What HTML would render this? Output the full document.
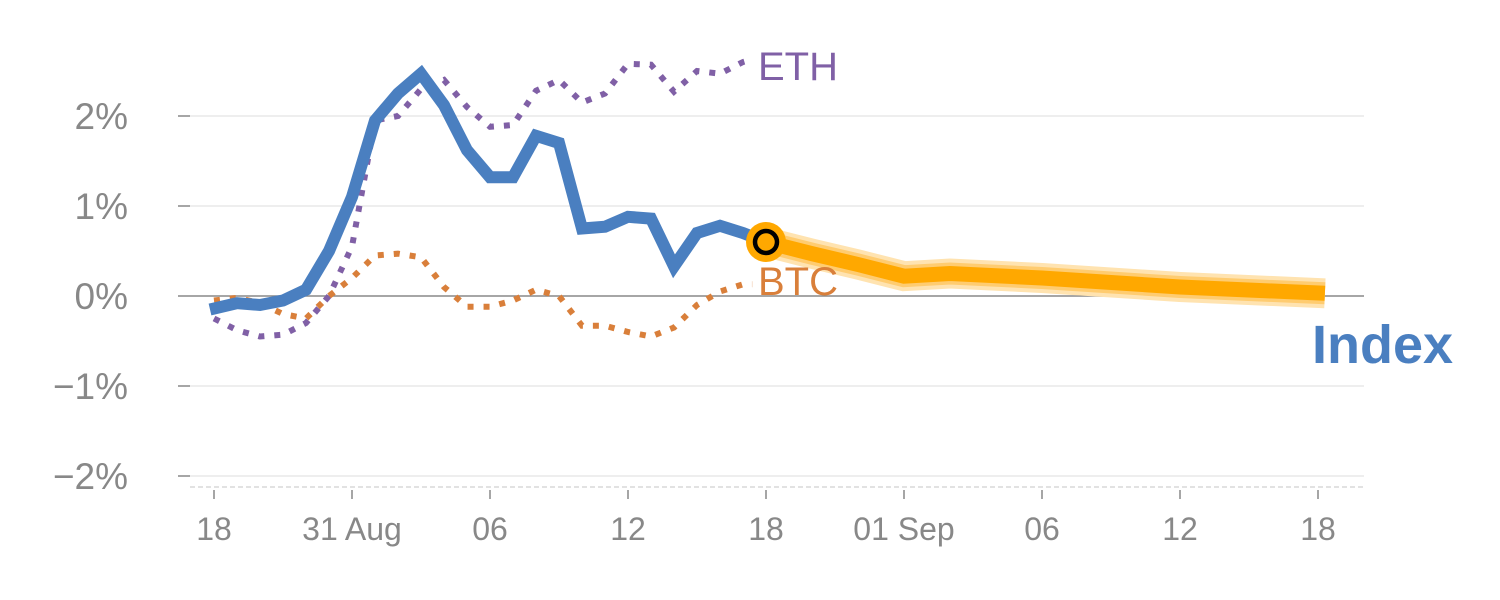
<!DOCTYPE html>
<html><head><meta charset="utf-8"><style>
html,body{margin:0;padding:0;background:#fff;}
svg{display:block;font-family:"Liberation Sans",sans-serif;}
</style></head><body>
<svg id="chart" width="1500" height="600" viewBox="0 0 1500 600" xmlns="http://www.w3.org/2000/svg">
<g id="grid"></g>
<g id="axes"></g>
<g id="series"></g>
<text x="758" y="80" font-size="40" fill="#8060a6">ETH</text>
<text x="758" y="295" font-size="40" fill="#d97f3a">BTC</text>
<text x="1312" y="363" font-size="54" font-weight="bold" fill="#4a7fc0">Index</text>
</svg>
<script>
const yTicks = [2, 1, 0, -1, -2];
const yTickLabels = ["2%", "1%", "0%", "\u22121%", "\u22122%"];
const xTickLabels = ["18", "31 Aug", "06", "12", "18", "01 Sep", "06", "12", "18"];
const indexValues = [-0.15,-0.08,-0.1,-0.05,0.07,0.5,1.1,1.95,2.25,2.47,2.12,1.62,1.32,1.32,1.78,1.7,0.75,0.77,0.88,0.86,0.33,0.7,0.78,0.7,0.6];
const ethValues = [-0.25,-0.38,-0.45,-0.43,-0.3,0.0,0.55,1.95,2.0,2.3,2.4,2.1,1.88,1.9,2.28,2.4,2.15,2.25,2.58,2.57,2.27,2.5,2.47,2.6,2.63];
const btcValues = [-0.05,-0.02,-0.08,-0.2,-0.25,0.0,0.2,0.45,0.47,0.43,0.1,-0.12,-0.12,-0.05,0.07,0.0,-0.33,-0.33,-0.4,-0.45,-0.35,-0.1,0.05,0.13,0.13];
const forecastSteps = [24, 26, 28, 30, 32, 36, 42, 48.3];
const forecastValues = [0.6, 0.47, 0.35, 0.22, 0.25, 0.2, 0.1, 0.03];

const NS = "http://www.w3.org/2000/svg";
const x = i => 214 + i * 23;
const y = v => 296 - v * 90;
function mk(tag, attrs, parent){const e=document.createElementNS(NS,tag);for(const k in attrs)e.setAttribute(k,attrs[k]);parent.appendChild(e);return e;}
const grid=document.getElementById('grid'), axes=document.getElementById('axes'), series=document.getElementById('series');

yTicks.forEach((v,i)=>{
  const l=mk('line',{x1:190,x2:1364,y1:y(v),y2:y(v),stroke:v===0?'#888':'#e4e4e4','stroke-width':v===0?1.5:1.2},grid);
  
  
  const t=mk('line',{x1:178,x2:190,y1:y(v),y2:y(v),stroke:'#888','stroke-width':1.5},axes);
  
  
  const tx=mk('text',{x:128,y:y(v)+13,'font-size':37,fill:'#888','text-anchor':'end'},axes);
  tx.textContent=yTickLabels[i];
  
  
});
const base=mk('line',{x1:190,x2:1364,y1:487,y2:487,stroke:'#d8d8d8','stroke-width':1.5,'stroke-dasharray':'5 3'},axes);


xTickLabels.forEach((lab,i)=>{
  const xx=x(i*6);
  const t=mk('line',{x1:xx,x2:xx,y1:490,y2:499,stroke:'#888','stroke-width':1.5},axes);
  
  
  const tx=mk('text',{x:xx,y:540,'font-size':32,fill:'#888','text-anchor':'middle'},axes);
  tx.textContent=lab;
  
  
});
function pts(vals, steps){return vals.map((v,i)=>(x(steps?steps[i]:i)-(steps?0:(i===0?4:0)))+','+y(v)).join(' ');}
const ethStepsPts = ethValues.map((v,i)=>x(i===ethValues.length-1?23.4:i)+','+y(v)).join(' ');
const btcStepsPts = btcValues.map((v,i)=>x(i===btcValues.length-1?23.4:i)+','+y(v)).join(' ');
const eth=mk('polyline',{points:ethStepsPts,fill:'none',stroke:'#8060a6','stroke-width':6,'stroke-dasharray':'6 10'},series);


const btc=mk('polyline',{points:btcStepsPts,fill:'none',stroke:'#d97f3a','stroke-width':6,'stroke-dasharray':'6 10'},series);


const idx=mk('polyline',{points:pts(indexValues),fill:'none',stroke:'#4a7fc0','stroke-width':12,'stroke-linejoin':'miter'},series);


const fp=pts(forecastValues,forecastSteps);
[[30,'#ffe3b0'],[22,'#ffcc70'],[15,'#ffa800']].forEach(([w,c])=>{
  const f=mk('polyline',{points:fp,fill:'none',stroke:c,'stroke-width':w},series);
  
  
});
const last=indexValues[indexValues.length-1];
const m1=mk('circle',{cx:x(24),cy:y(last),r:20,fill:'#ffa800'},series);


const m2=mk('circle',{cx:x(24),cy:y(last),r:11,fill:'#ffa800',stroke:'#000','stroke-width':4.5},series);


</script>
</body></html>
